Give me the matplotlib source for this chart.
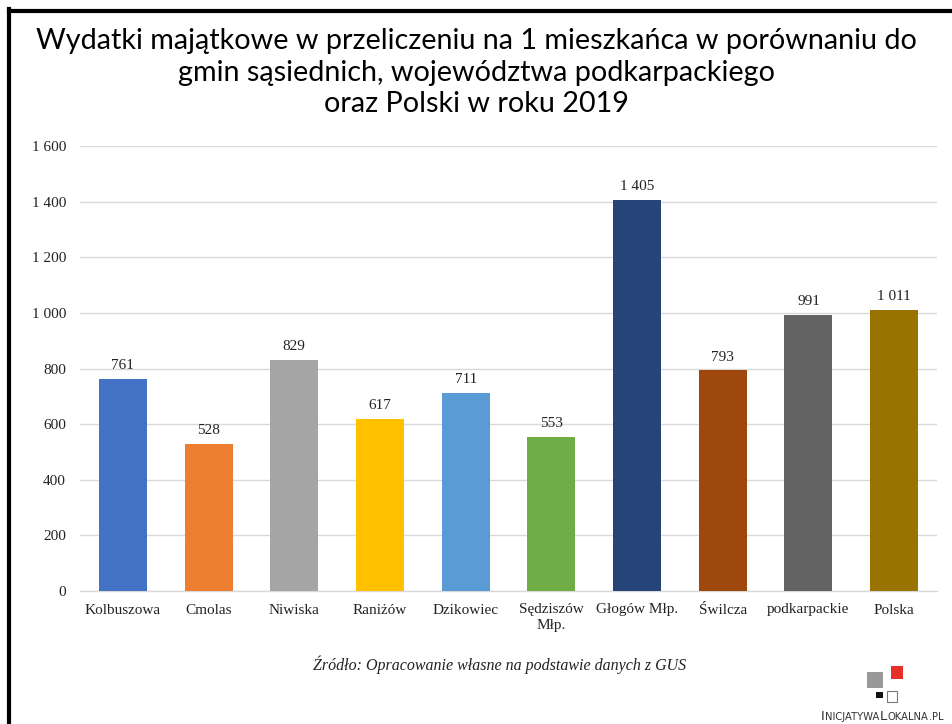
import matplotlib
matplotlib.use('Agg')
import matplotlib.pyplot as plt
from matplotlib.patches import Rectangle
from matplotlib.ticker import FuncFormatter
from matplotlib.lines import Line2D

# Wydatki majątkowe na 1 mieszkańca, 2019
gminy = ['Kolbuszowa', 'Cmolas', 'Niwiska', 'Raniżów', 'Dzikowiec',
         'Sędziszów\nMłp.', 'Głogów Młp.', 'Świlcza', 'podkarpackie', 'Polska']
wydatki = [761, 528, 829, 617, 711, 553, 1405, 793, 991, 1011]
kolory = ['#4472C4', '#ED7D31', '#A5A5A5', '#FFC000', '#5B9BD5',
          '#70AD47', '#264478', '#9E480E', '#636363', '#997300']
y_ticks = [0, 200, 400, 600, 800, 1000, 1200, 1400, 1600]

SERIF = 'Liberation Serif'
GRID = '#D9D9D9'


def fmt_pl(v, pos=None):
    return f'{int(v):,}'.replace(',', ' ')


fig = plt.figure(figsize=(9.53, 7.24), dpi=100)
W, H = 953, 724

ax = fig.add_axes([80 / W, 1 - 591 / H, (937 - 80) / W, (591 - 146) / H])
x = range(len(gminy))
bars = ax.bar(x, wydatki, width=0.56, color=kolory, zorder=3)

ax.set_xlim(-0.5, len(gminy) - 0.5)
ax.set_ylim(0, 1600)
ax.set_yticks(y_ticks)
ax.yaxis.set_major_formatter(FuncFormatter(fmt_pl))
ax.set_xticks(list(x))
ax.set_xticklabels(gminy, fontfamily=SERIF, fontsize=11, color='#222222',
                   linespacing=1.2)
for lab in ax.get_yticklabels():
    lab.set_fontfamily(SERIF)
ax.tick_params(axis='y', labelsize=11, length=0, pad=10, labelcolor='#222222')
ax.tick_params(axis='x', length=0, pad=9)
ax.grid(axis='y', color=GRID, linewidth=1, zorder=0)
for s in ['top', 'right', 'left']:
    ax.spines[s].set_visible(False)
ax.spines['bottom'].set_color(GRID)
ax.spines['bottom'].set_linewidth(1)

# etykiety wartości nad słupkami
for b, v in zip(bars, wydatki):
    ax.annotate(fmt_pl(v), (b.get_x() + b.get_width() / 2, v),
                xytext=(0, 5), textcoords='offset points', ha='center',
                va='bottom', fontfamily=SERIF, fontsize=11, color='#222222')

fig.text(0.5, 1 - 72.5 / H,
         'Wydatki majątkowe w przeliczeniu na 1 mieszkańca w porównaniu do\n'
         'gmin sąsiednich, województwa podkarpackiego\n'
         'oraz Polski w roku 2019',
         ha='center', va='center', fontfamily='Lato', fontsize=20.7,
         linespacing=1.24)

fig.text(500 / W, 1 - 665 / H,
         'Źródło: Opracowanie własne na podstawie danych z GUS',
         ha='center', va='center', fontfamily=SERIF, style='italic',
         fontsize=11.5, color='#222222')

# ramka slajdu
fig.add_artist(Line2D([9 / W, 1], [1 - 10.5 / H] * 2, color='black', lw=3,
                      transform=fig.transFigure))
fig.add_artist(Line2D([9 / W] * 2, [0, 1 - 9 / H], color='black', lw=3,
                      transform=fig.transFigure))


# logo w prawym dolnym rogu
def sq(x0, y0, w, h, fc, ec='none'):
    fig.add_artist(Rectangle((x0 / W, 1 - (y0 + h) / H), w / W, h / H,
                             facecolor=fc, edgecolor=ec, lw=0.8,
                             transform=fig.transFigure))


sq(867, 672, 16, 16, '#999999')
sq(891, 666, 12, 13, '#E8302A')
sq(876, 692, 7, 6, '#111111')
sq(887, 691, 10, 11, 'white', '#777777')

# napis kapitalikami: kolejne kawałki tekstu składane jeden za drugim
renderer = fig.canvas.get_renderer()
parts = [('I', 9.5), ('NICJATYWA', 7.2), ('L', 9.5), ('OKALNA', 7.2),
         ('.', 7.2), ('PL', 7.2)]
xpos = 821
for txt, size in parts:
    t = fig.text(xpos / W, 1 - 720 / H, txt, fontfamily='DejaVu Sans',
                 fontsize=size, color='#333333', va='baseline', ha='left')
    bb = t.get_window_extent(renderer)
    xpos = bb.x1 + 0.3

fig.savefig('out.png', dpi=100)
